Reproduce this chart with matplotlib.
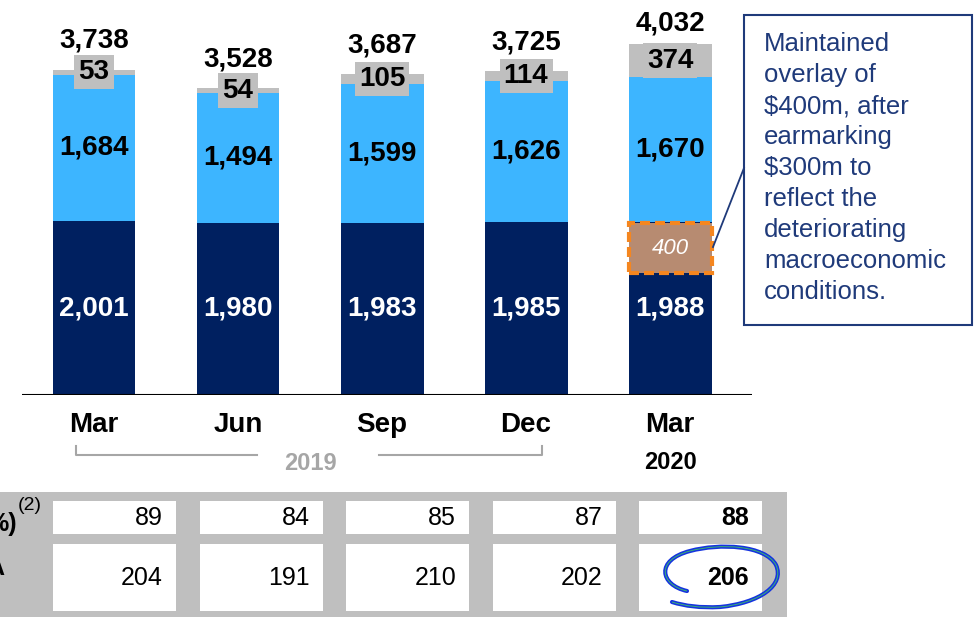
import matplotlib.pyplot as plt
from matplotlib.patches import Rectangle, PathPatch
from matplotlib.path import Path

plt.rcParams['font.family'] = ['Liberation Sans', 'DejaVu Sans']

# chart values
periods = ['Mar', 'Jun', 'Sep', 'Dec', 'Mar']
base_vals = [2001, 1980, 1983, 1985, 1988]     # dark navy segment
mid_vals = [1684, 1494, 1599, 1626, 1670]      # light blue segment
top_vals = [53, 54, 105, 114, 374]             # grey segment
totals = [3738, 3528, 3687, 3725, 4032]
overlay_val = 400
row1_vals = [89, 84, 85, 87, 88]
row2_vals = [204, 191, 210, 202, 206]

navy = '#002060'
light = '#3DB5FF'
grey = '#BFBFBF'
note_col = '#1F3A7A'

fig = plt.figure(figsize=(9.75, 6.17), dpi=100)
ax = fig.add_axes([22 / 975, 222 / 617, 730 / 975, 391.3 / 617])
ax.set_xlim(-0.5, 4.569)
ax.set_ylim(0, 4500)
ax.axis('off')

x = range(len(periods))
w = 0.576
mid_bottom = [b for b in base_vals]
top_bottom = [b + m for b, m in zip(base_vals, mid_vals)]
ax.bar(x, base_vals, width=w, color=navy, zorder=2)
ax.bar(x, mid_vals, width=w, bottom=mid_bottom, color=light, zorder=2)
ax.bar(x, top_vals, width=w, bottom=top_bottom, color=grey, zorder=2)
ax.axhline(0, color='black', lw=1.5, zorder=3)

for i in x:
    ax.text(i, base_vals[i] / 2, f'{base_vals[i]:,}', ha='center', va='center',
            color='white', fontsize=20, fontweight='bold', zorder=4)
    ax.text(i, base_vals[i] + mid_vals[i] / 2, f'{mid_vals[i]:,}', ha='center', va='center',
            color='black', fontsize=20, fontweight='bold', zorder=4)
    ax.text(i, top_bottom[i] + top_vals[i] / 2, f'{top_vals[i]:,}', ha='center', va='center',
            color='black', fontsize=20, fontweight='bold', zorder=4,
            bbox=dict(boxstyle='square,pad=0.15', fc=grey, ec='none'))
    off = 29 if top_vals[i] < 200 else 21
    ax.annotate(f'{totals[i]:,}', (i, totals[i]), xytext=(0, off), textcoords='offset pixels',
                ha='center', va='center', fontsize=20, fontweight='bold', zorder=4)

# overlay box on the last bar
box_top = base_vals[4] - 15
box_h = 565
ax.add_patch(Rectangle((4 - w / 2, box_top - box_h), w, box_h, fc='#B78B71', ec='#F5861F',
                       lw=3, ls=(0, (2.4, 1.2)), zorder=5))
ax.text(4, box_top - box_h / 2, str(overlay_val), ha='center', va='center', color='white',
        fontsize=16, style='italic', zorder=6)

# category labels and year bracket
for i in x:
    ax.text(i, -345, periods[i], ha='center', va='center', fontsize=20, fontweight='bold',
            clip_on=False)
ax.text(4, -780, '2020', ha='center', va='center', fontsize=17, fontweight='bold', clip_on=False)
ax.text(1.5, -785, '2019', ha='center', va='center', fontsize=17, fontweight='bold',
        color='#A6A6A6', clip_on=False)
ax.plot([-0.125, -0.125, 1.132], [-587, -690, -690], color='#A6A6A6', lw=1.5, clip_on=False)
ax.plot([1.979, 3.111, 3.111], [-690, -690, -587], color='#A6A6A6', lw=1.5, clip_on=False)

# overlay axes in pixel coordinates for the note and the table
ov = fig.add_axes([0, 0, 1, 1], zorder=3)
ov.set_xlim(0, 975)
ov.set_ylim(617, 0)
ov.axis('off')
ov.patch.set_alpha(0)

ov.plot([713, 744], [247, 168], color=note_col, lw=1.3)
ov.add_patch(Rectangle((744, 15), 228, 310, fc='white', ec=note_col, lw=1.5))
ov.text(764, 32, 'Maintained\noverlay of\n$400m, after\nearmarking\n$300m to\nreflect the\n'
        'deteriorating\nmacroeconomic\nconditions.', ha='left', va='top', fontsize=18.5,
        color=note_col, linespacing=1.37)

# table
ov.add_patch(Rectangle((0, 492), 787, 125, fc=grey, ec='none'))
for i in x:
    x0 = 53 + 146.5 * i
    ov.add_patch(Rectangle((x0, 501), 123, 33, fc='white', ec='none'))
    ov.add_patch(Rectangle((x0, 544), 123, 67, fc='white', ec='none'))
    fw = 'bold' if i == 4 else 'normal'
    ov.text(x0 + 110, 518, str(row1_vals[i]), ha='right', va='center', fontsize=18, fontweight=fw)
    ov.text(x0 + 110, 578, str(row2_vals[i]), ha='right', va='center', fontsize=18, fontweight=fw)

ov.text(17, 524, '%)', ha='right', va='center', fontsize=18, fontweight='bold')
ov.text(18, 506, '(2)', ha='left', va='center', fontsize=14)
ov.text(4, 568, 'A', ha='right', va='center', fontsize=18, fontweight='bold')

# hand-drawn circle round the last value
verts = [(687, 591), (660, 585), (655, 560), (690, 551),
         (720, 543), (765, 545), (776, 565),
         (785, 585), (760, 603), (720, 607),
         (700, 608), (685, 606), (672, 602)]
codes = [Path.MOVETO] + [Path.CURVE4] * 12
ov.add_patch(PathPatch(Path(verts, codes), fc='none', ec='#1533E0', lw=3, capstyle='round'))
ov.add_patch(PathPatch(Path(verts, codes), fc='none', ec='#3CB371', lw=0.7))

fig.savefig('out.png', dpi=100)
